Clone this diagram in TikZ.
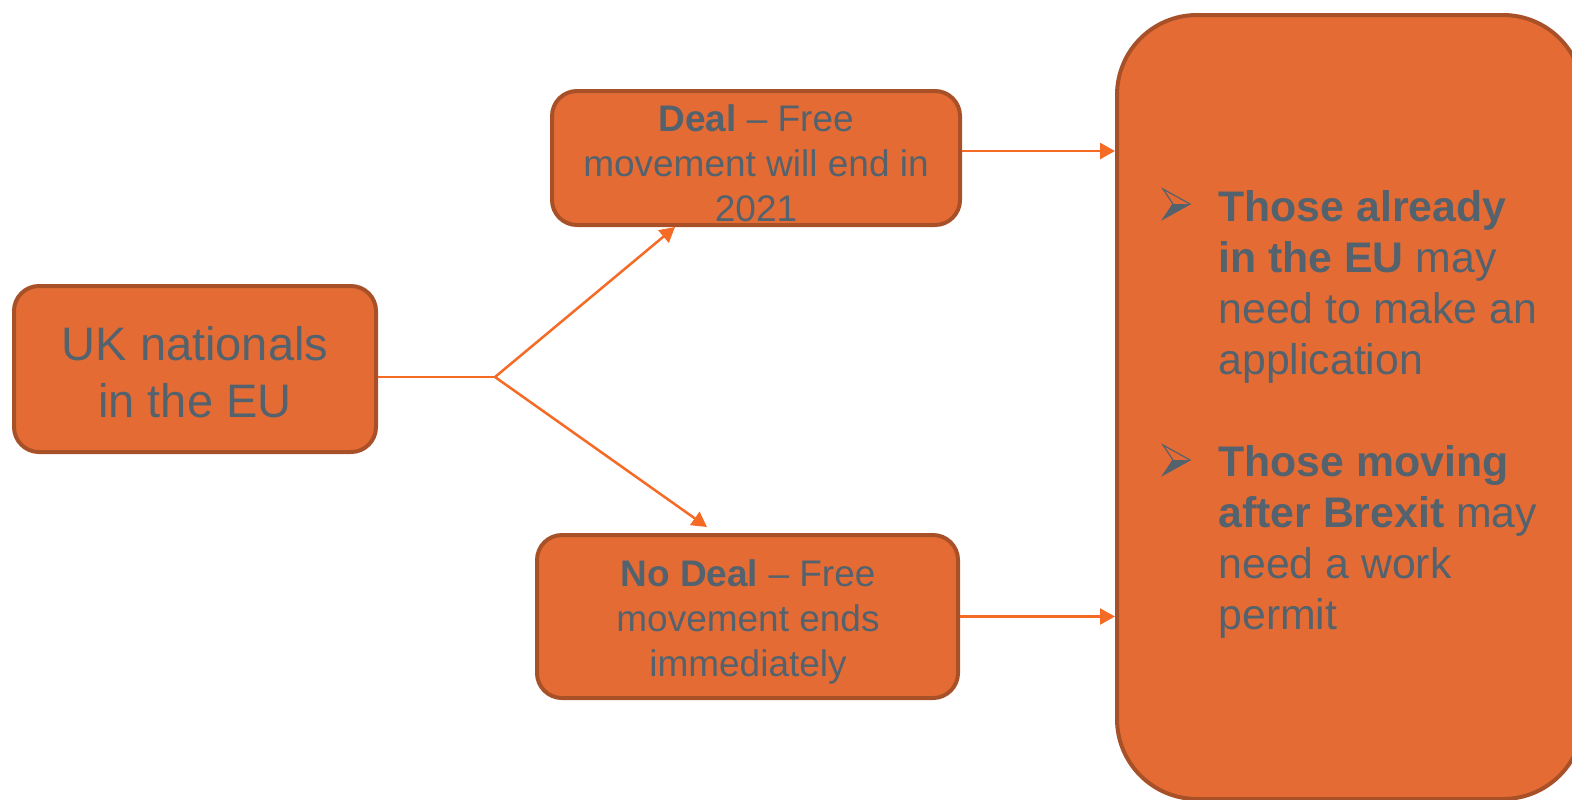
\documentclass[tikz,border=0pt]{standalone}
\usepackage{fontspec}
\setmainfont{Liberation Sans}
\usetikzlibrary{arrows.meta,calc}
\definecolor{boxfill}{RGB}{228,108,52}
\definecolor{boxline}{RGB}{168,80,40}
\definecolor{arrcol}{RGB}{245,106,36}
\definecolor{txt}{RGB}{84,98,110}
\tikzset{
  box/.style={draw=boxline,fill=boxfill,line width=2pt,rounded corners=12.5pt,inner sep=0pt},
  arr/.style={draw=arrcol,line width=1.25pt,-{Triangle[length=7.5pt,width=8pt]}},
  plain/.style={draw=arrcol,line width=1.25pt},
  bigtxt/.style={text=txt,font=\fontsize{23.5}{28.5}\selectfont,anchor=base,inner sep=0pt},
  midtxt/.style={text=txt,font=\fontsize{18.5}{22.5}\selectfont,anchor=base,inner sep=0pt},
  rtxt/.style={text=txt,font=\fontsize{21.4}{25.5}\selectfont,anchor=base west,inner sep=0pt},
  bullet/.style={draw=txt,line width=0.6pt,line join=miter},
}
\begin{document}
\begin{tikzpicture}[x=0.5pt,y=-0.5pt]
\useasboundingbox (0,0) rectangle (1572,799);
\clip (0,0) rectangle (1572,799);
% boxes
\node[box,minimum width=181pt,minimum height=83pt] (UK) at (195,369) {};
\node[box,minimum width=204pt,minimum height=67pt] (Deal) at (756,158) {};
\node[box,minimum width=210.5pt,minimum height=81.5pt] (ND) at (747.5,616.5) {};
\node[box,rounded corners=40pt,minimum width=233pt,minimum height=392pt] (Big) at (1350,407) {};
% texts
\node[bigtxt] (uk1) at (195,360) {UK nationals};
\node[bigtxt] (uk2) at (195,417) {in the EU};
\node[midtxt] (d1) at (756,131) {\textbf{Deal} – Free};
\node[midtxt] (d2) at (756,176) {movement will end in};
\node[midtxt] (d3) at (756,221) {2021};
\node[midtxt] (n1) at (748,586) {\textbf{No Deal} – Free};
\node[midtxt] (n2) at (748,631) {movement ends};
\node[midtxt] (n3) at (748,676) {immediately};
\node[rtxt] (r1) at (1218,221) {\textbf{Those already}};
\node[rtxt] (r2) at (1218,272) {\textbf{in the EU} may};
\node[rtxt] (r3) at (1218,323) {need to make an};
\node[rtxt] (r4) at (1218,374) {application};
\node[rtxt] (r5) at (1218,476) {\textbf{Those moving}};
\node[rtxt] (r6) at (1218,527) {\textbf{after Brexit} may};
\node[rtxt] (r7) at (1218,578) {need a work};
\node[rtxt] (r8) at (1218,629) {permit};
% bullets
\foreach \yy in {204,460}{
  \fill[txt] (1173,\yy) -- (1190,\yy) -- (1163,\yy+15) -- cycle;
  \draw[bullet] (1163,\yy-15) -- (1190,\yy) -- (1163,\yy+15) -- (1173,\yy) -- cycle;
}
% connectors
\coordinate (J) at (495,377);
\draw[plain] (UK.east |- J) -- (J);
\draw[arr] (J) -- ($(Deal.south west)+(125,0)$);
\draw[arr] (J) -- ($(ND.north west)+(172,-6)$);
\draw[arr] ($(Deal.east)+(0,-7)$) coordinate (de) -- (de -| Big.west);
\draw[arr] (ND.east) -- (ND.east -| Big.west);
\end{tikzpicture}
\end{document}
